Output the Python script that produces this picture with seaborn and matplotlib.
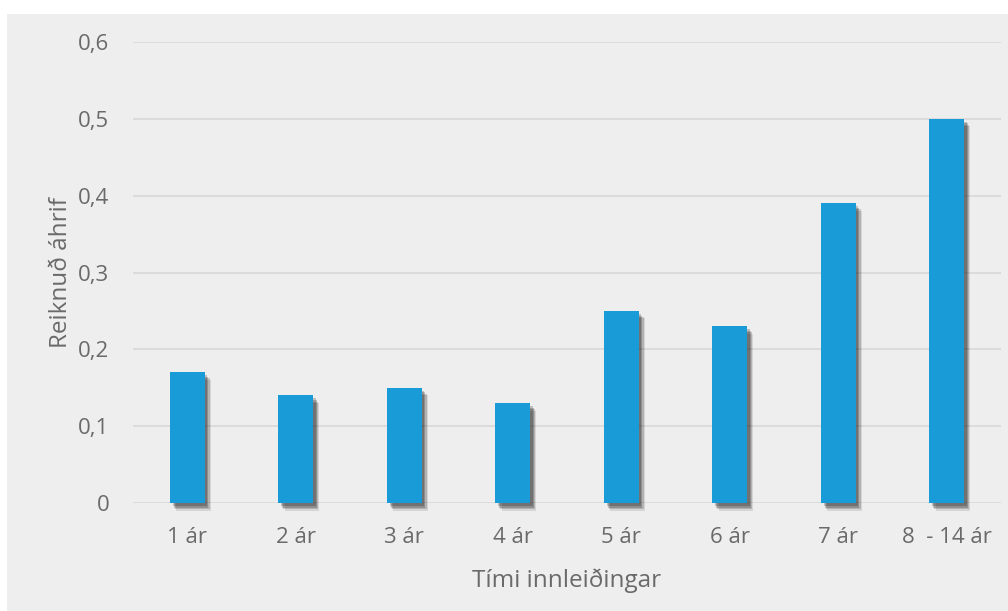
import matplotlib
matplotlib.use("Agg")
import matplotlib.pyplot as plt
import matplotlib.patheffects as pe
import matplotlib.ticker as mticker
from matplotlib.patches import Rectangle
import seaborn as sns
import pandas as pd

# data
categories = ["1 ár", "2 ár", "3 ár", "4 ár", "5 ár", "6 ár", "7 ár", "8  - 14 ár"]
values = [0.17, 0.14, 0.15, 0.13, 0.25, 0.23, 0.39, 0.50]
y_ticks = [0, 0.1, 0.2, 0.3, 0.4, 0.5, 0.6]

BAR_COLOR = "#189bd7"
BG_COLOR = "#eeeeee"
GRID_COLOR = "#d9d9d9"
TEXT_COLOR = "#6a6a6a"

sns.set_theme(style="white")
plt.rcParams["font.family"] = ["Open Sans", "DejaVu Sans"]

df = pd.DataFrame({"cat": categories, "val": values})

fig = plt.figure(figsize=(10.08, 6.11), dpi=100)
fig.patch.set_facecolor("white")
fig.patches.append(Rectangle((7 / 1008, 0), 1, (611 - 14) / 611,
                             transform=fig.transFigure, facecolor=BG_COLOR,
                             edgecolor="none", zorder=-10))

ax = fig.add_axes([133 / 1008, 108 / 611, 868 / 1008, 461 / 611])
ax.set_facecolor("none")

sns.barplot(data=df, x="cat", y="val", color=BAR_COLOR, saturation=1,
            width=0.32, ax=ax, zorder=3)

# soft drop shadow like the office chart (offsets in points)
shadow = [
    pe.SimplePatchShadow(offset=(4.4, -5.4), shadow_rgbFace="#000000", alpha=0.10),
    pe.SimplePatchShadow(offset=(3.6, -4.4), shadow_rgbFace="#000000", alpha=0.16),
    pe.SimplePatchShadow(offset=(2.8, -3.3), shadow_rgbFace="#000000", alpha=0.20),
    pe.SimplePatchShadow(offset=(2.0, -2.2), shadow_rgbFace="#000000", alpha=0.20),
    pe.Normal(),
]
for bar in ax.patches:
    bar.set_path_effects(shadow)
    bar.set_edgecolor("none")
    bar.set_clip_on(False)

ax.set_ylim(0, 0.6)
ax.set_xlim(-0.5, len(categories) - 0.5)
ax.set_yticks(y_ticks)
ax.yaxis.set_major_formatter(mticker.FuncFormatter(
    lambda v, _: "0" if v == 0 else f"{v:.1f}".replace(".", ",")))
ax.grid(axis="y", color=GRID_COLOR, linewidth=1.3, zorder=1)
ax.set_axisbelow(True)
for s in ax.spines.values():
    s.set_visible(False)

ax.tick_params(axis="y", length=0, pad=17, labelsize=16, labelcolor=TEXT_COLOR)
ax.tick_params(axis="x", length=0, pad=17, labelsize=16, labelcolor=TEXT_COLOR)

ax.set_xlabel("Tími innleiðingar", fontsize=17.5, color=TEXT_COLOR, labelpad=15)
ax.set_ylabel("Reiknuð áhrif", fontsize=17.5, color=TEXT_COLOR, labelpad=4)

fig.savefig("out.png", dpi=100, facecolor=fig.get_facecolor())
